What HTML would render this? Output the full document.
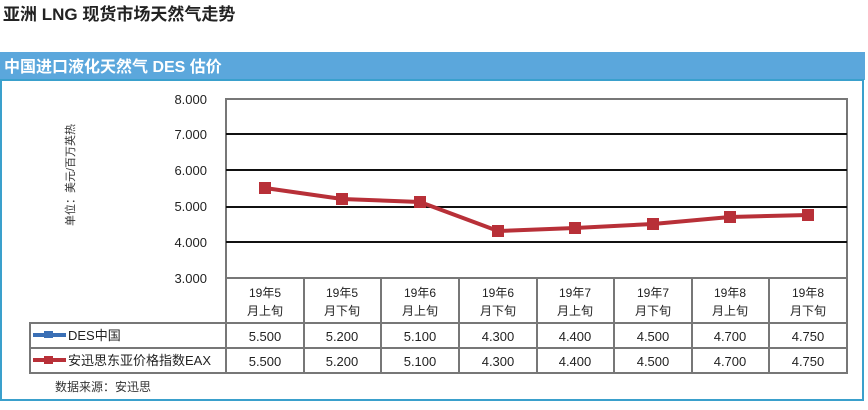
<!DOCTYPE html>
<html><head><meta charset="utf-8"><style>
body{margin:0;width:868px;height:405px;background:#fff;overflow:hidden;font-family:"Liberation Sans","Noto Sans CJK SC",sans-serif;}
</style></head><body>
<svg width="868" height="405" xmlns="http://www.w3.org/2000/svg" font-family="Liberation Sans, Noto Sans CJK SC, sans-serif">
<text x="3" y="20" font-size="17" font-weight="bold" fill="#222">亚洲 LNG 现货市场天然气走势</text>
<rect x="0" y="52" width="865" height="28" fill="#5ba7dc"/>
<text x="4" y="72" font-size="16" font-weight="bold" fill="#fff">中国进口液化天然气 DES 估价</text>
<rect x="1" y="80" width="862" height="320" fill="#fff" stroke="#3aa0cc" stroke-width="2"/>
<!-- plot -->
<rect x="226" y="99" width="621" height="179" fill="#fff" stroke="#777" stroke-width="2"/>
<g stroke="#111" stroke-width="2">
<line x1="226" y1="134" x2="847" y2="134"/><line x1="226" y1="170" x2="847" y2="170"/>
<line x1="226" y1="207" x2="847" y2="207"/><line x1="226" y1="242" x2="847" y2="242"/>
</g>
<g font-size="13" fill="#222" text-anchor="end">
<text x="207" y="104">8.000</text><text x="207" y="139">7.000</text><text x="207" y="175">6.000</text>
<text x="207" y="211">5.000</text><text x="207" y="247">4.000</text><text x="207" y="283">3.000</text>
</g>
<text transform="translate(74,175) rotate(-90)" font-size="11" fill="#333" text-anchor="middle">单位：美元/百万英热</text>
<polyline fill="none" stroke="#b83038" stroke-width="4" points="265,188 342,199 420,202 498,231 575,228 653,224 730,217 808,215"/>
<g fill="#b83038">
<rect x="259" y="182" width="12" height="12"/><rect x="336" y="193" width="12" height="12"/>
<rect x="414" y="196" width="12" height="12"/><rect x="492" y="225" width="12" height="12"/>
<rect x="569" y="222" width="12" height="12"/><rect x="647" y="218" width="12" height="12"/>
<rect x="724" y="211" width="12" height="12"/><rect x="802" y="209" width="12" height="12"/>
</g>
<!-- table -->
<g stroke="#777" stroke-width="2" fill="none">
<rect x="226" y="278" width="621" height="95"/>
<rect x="30" y="323" width="196" height="50"/>
<line x1="30" y1="348" x2="847" y2="348"/><line x1="226" y1="323" x2="847" y2="323"/>
<line x1="304" y1="278" x2="304" y2="373"/><line x1="381" y1="278" x2="381" y2="373"/>
<line x1="459" y1="278" x2="459" y2="373"/><line x1="537" y1="278" x2="537" y2="373"/>
<line x1="614" y1="278" x2="614" y2="373"/><line x1="692" y1="278" x2="692" y2="373"/>
<line x1="769" y1="278" x2="769" y2="373"/>
</g>
<g font-size="12" fill="#222" text-anchor="middle">
<text x="265" y="297">19年5</text><text x="265" y="315">月上旬</text>
<text x="342" y="297">19年5</text><text x="342" y="315">月下旬</text>
<text x="420" y="297">19年6</text><text x="420" y="315">月上旬</text>
<text x="498" y="297">19年6</text><text x="498" y="315">月下旬</text>
<text x="575" y="297">19年7</text><text x="575" y="315">月上旬</text>
<text x="653" y="297">19年7</text><text x="653" y="315">月下旬</text>
<text x="730" y="297">19年8</text><text x="730" y="315">月上旬</text>
<text x="808" y="297">19年8</text><text x="808" y="315">月下旬</text>
</g>
<g font-size="13" fill="#222" text-anchor="middle">
<text x="265" y="341">5.500</text><text x="342" y="341">5.200</text><text x="420" y="341">5.100</text><text x="498" y="341">4.300</text>
<text x="575" y="341">4.400</text><text x="653" y="341">4.500</text><text x="730" y="341">4.700</text><text x="808" y="341">4.750</text>
<text x="265" y="366">5.500</text><text x="342" y="366">5.200</text><text x="420" y="366">5.100</text><text x="498" y="366">4.300</text>
<text x="575" y="366">4.400</text><text x="653" y="366">4.500</text><text x="730" y="366">4.700</text><text x="808" y="366">4.750</text>
</g>
<line x1="33" y1="335" x2="66" y2="335" stroke="#3a6fb5" stroke-width="4"/>
<rect x="44" y="331" width="9" height="7" fill="#3a6fb5"/>
<line x1="33" y1="360" x2="66" y2="360" stroke="#b83038" stroke-width="4"/>
<rect x="44" y="356" width="9" height="8" fill="#b83038"/>
<text x="68" y="340" font-size="13" fill="#222">DES中国</text>
<text x="68" y="365" font-size="13" fill="#222">安迅思东亚价格指数EAX</text>
<text x="55" y="391" font-size="12" fill="#333">数据来源：安迅思</text>
</svg>
</body></html>
